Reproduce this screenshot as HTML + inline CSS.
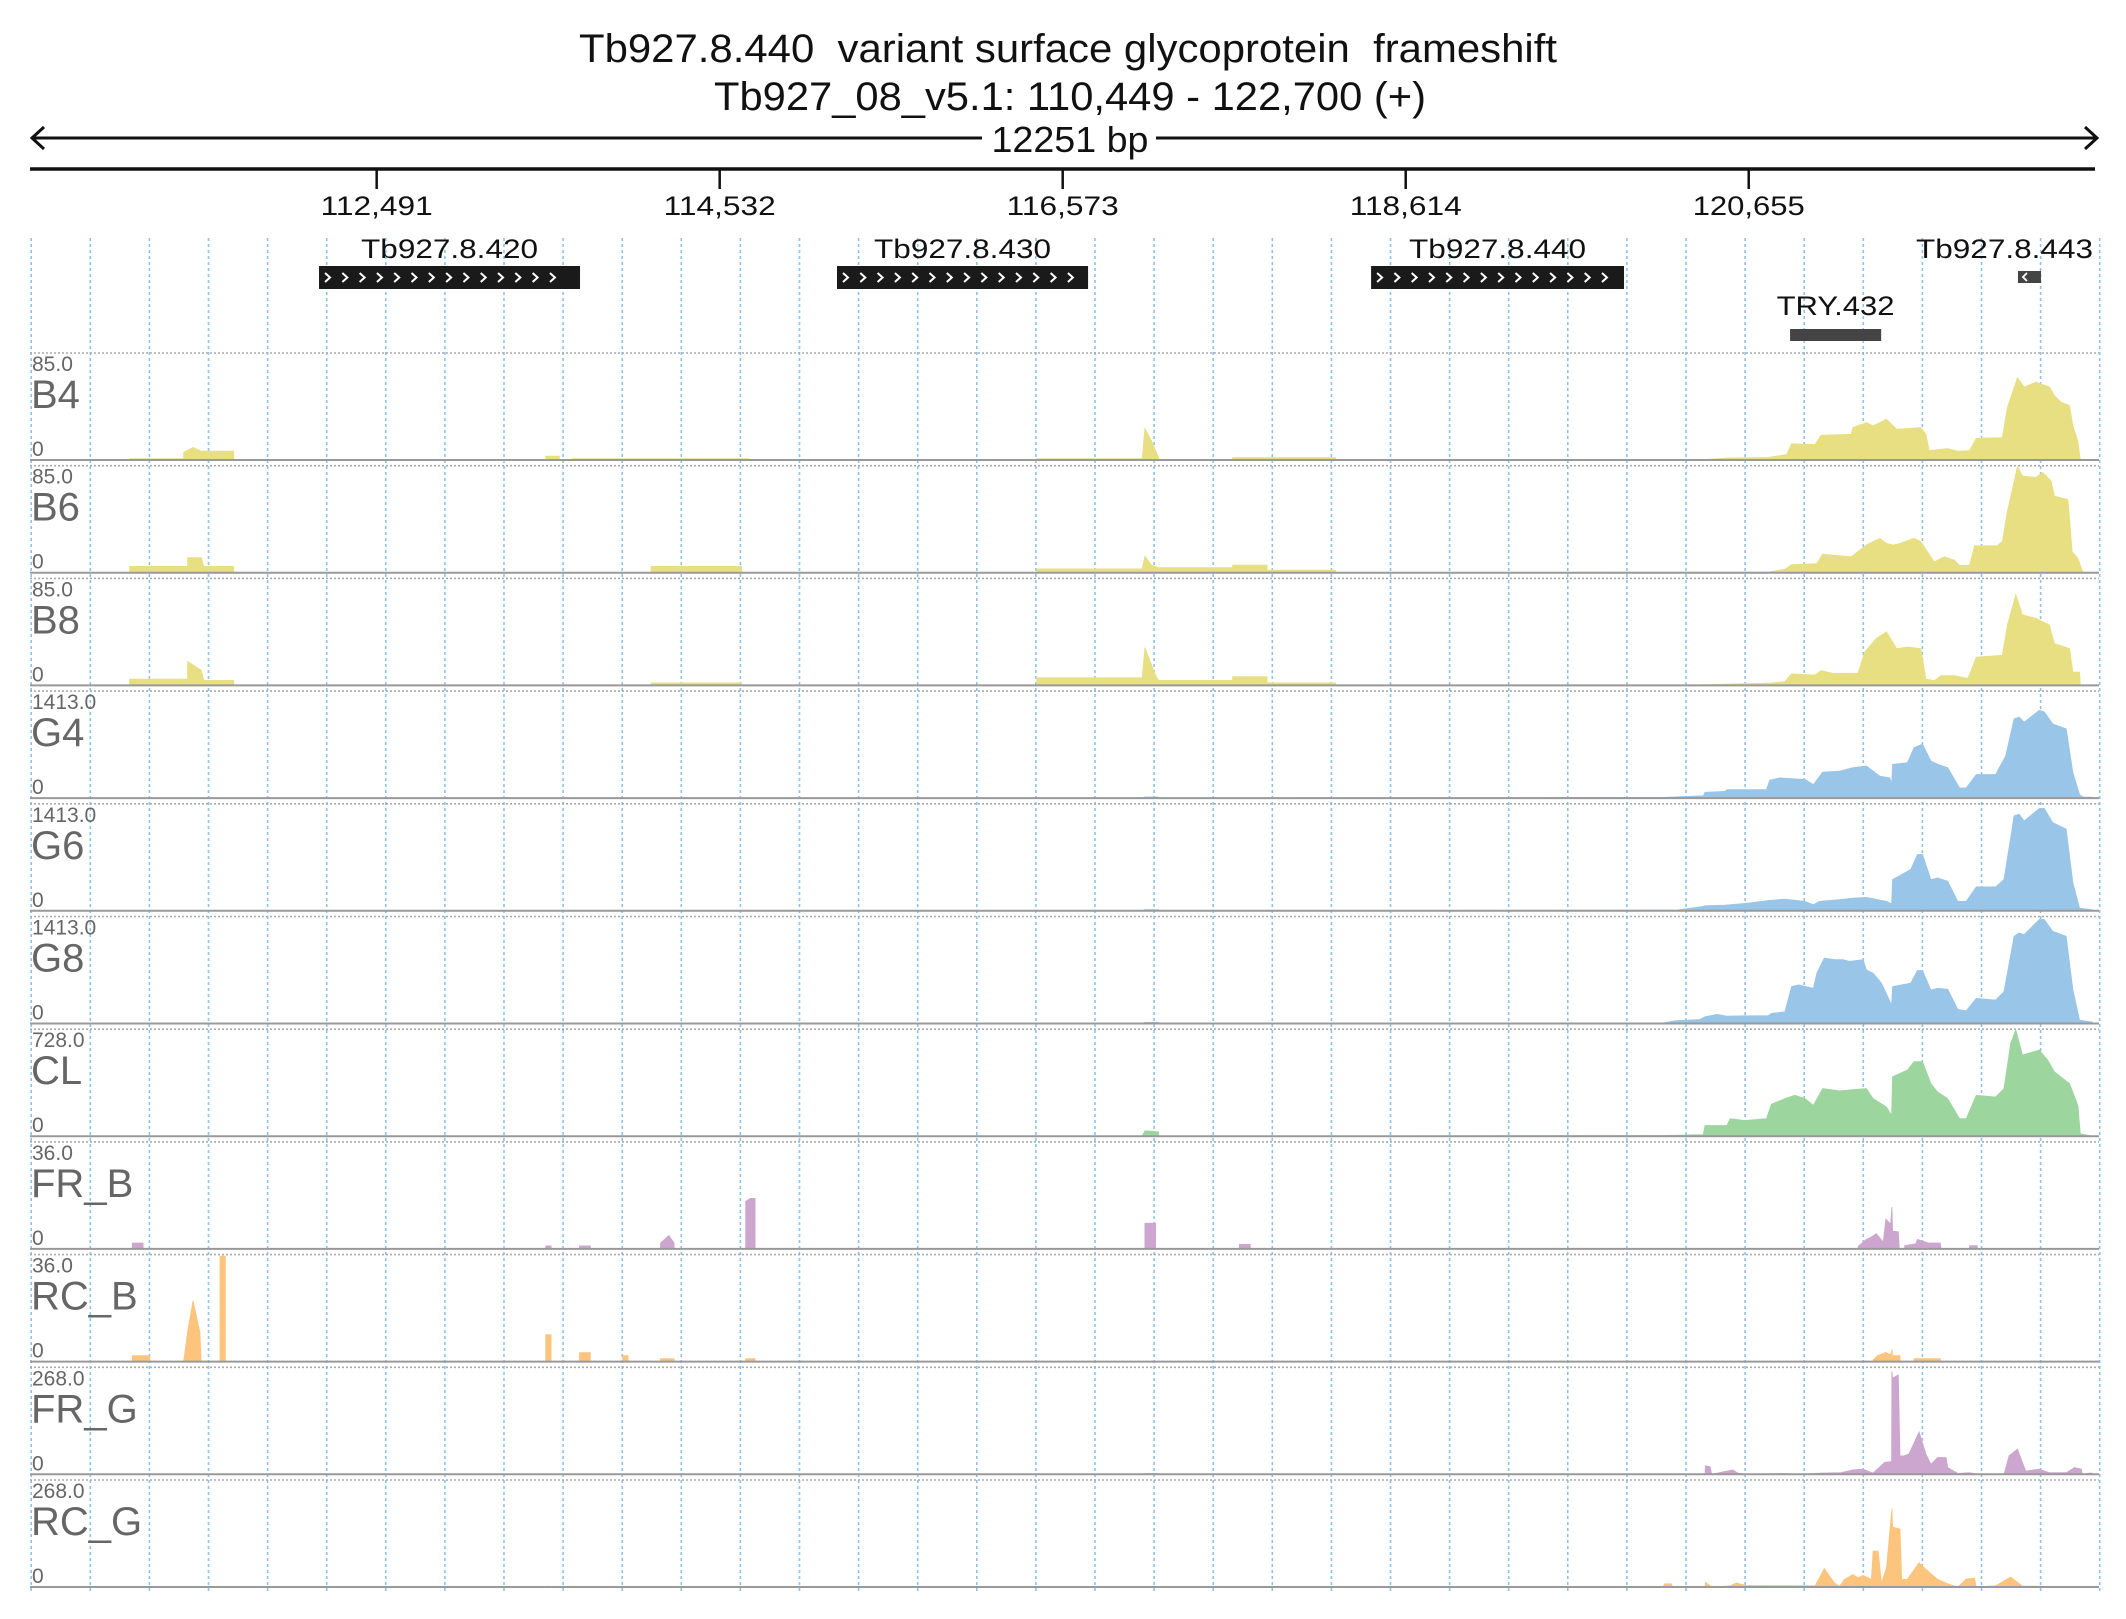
<!DOCTYPE html>
<html><head><meta charset="utf-8"><style>
html,body{margin:0;padding:0;background:#fff;}
svg{display:block;font-family:"Liberation Sans",sans-serif;}
</style></head><body>
<svg id="chart" width="2126" height="1619" viewBox="0 0 2126 1619"></svg>
<script>
const bpStart = 110449, bpEnd = 122700;
const tickValues = [112491,114532,116573,118614,120655];
const tickLabels = ["112,491","114,532","116,573","118,614","120,655"];
const geneNames = ["Tb927.8.420","Tb927.8.430","Tb927.8.440"];
const geneStarts = [112148,115230,118408];
const geneEnds = [113701,116724,119913];
const trackNames = ["B4","B6","B8","G4","G6","G8","CL","FR_B","RC_B","FR_G","RC_G"];
const trackMax = [85,85,85,1413,1413,1413,728,36,36,268,268];
const trackMaxLabels = ["85.0","85.0","85.0","1413.0","1413.0","1413.0","728.0","36.0","36.0","268.0","268.0"];
const trackColors = ["#e8df82","#e8df82","#e8df82","#99c5e8","#99c5e8","#99c5e8","#9dd59e","#cca6cf","#fdc47e","#cca6cf","#fdc47e"];
const dataB4 = [[111021,0],[111021,1],[111342,1],[111342,6],[111398,10],[111447,7],[111640,7],[111640,0],[113497,0],[113497,3],[113578,3],[113578,0],[113658,0],[113658,1],[114703,1],[114703,0],[116419,0],[116419,1],[117046,1],[117062,25],[117102,15],[117143,2],[117143,0],[117584,0],[117584,2],[118196,2],[118196,0],[120405,0.5],[120525,1.6],[120770,2.1],[120880,4.3],[120910,12.9],[121050,12.3],[121085,19.6],[121265,20.4],[121275,25.7],[121355,29.8],[121395,27.1],[121475,32.4],[121535,24.4],[121679,25.7],[121709,20.4],[121729,7.5],[121839,9.1],[121899,7],[121969,7.5],[122009,17.2],[122164,17.7],[122194,41.8],[122254,65.4],[122294,57.9],[122364,61.9],[122444,57.9],[122474,51.2],[122514,45.8],[122564,43.2],[122584,27.1],[122614,15],[122628,0]];
const dataB6 = [[111021,0],[111021,5],[111366,5],[111366,12],[111447,12],[111463,5],[111640,5],[111640,0],[114124,0],[114124,5],[114663,5],[114663,0],[116419,0],[116419,3],[117046,3],[117062,13],[117102,6],[117143,4],[117584,4],[117584,6],[117789,6],[117789,2],[118196,2],[118196,0],[120395,0.5],[120770,0.5],[120870,2.7],[120910,6.4],[121060,7.2],[121095,14.7],[121265,12.6],[121355,22],[121435,27.3],[121475,23.3],[121515,22],[121555,23.3],[121639,27.3],[121679,24.7],[121719,16.6],[121759,8.6],[121819,12.6],[121879,9.9],[121909,5.9],[121969,5.9],[121999,21.4],[122134,21.4],[122164,24.7],[122194,48.8],[122254,84.2],[122284,76.9],[122364,75.6],[122404,79.6],[122454,72.9],[122474,60.8],[122554,58.1],[122580,16.6],[122614,11.3],[122644,0]];
const dataB8 = [[111021,0],[111021,5],[111366,5],[111366,19],[111447,12],[111463,4],[111640,4],[111640,0],[114124,0],[114124,2],[114663,2],[114663,0],[116419,0],[116419,6],[117046,6],[117062,30],[117126,8],[117143,4],[117584,4],[117584,7],[117789,7],[117789,2],[118196,2],[118196,0],[120365,0.5],[120790,1.9],[120870,3],[120910,9.1],[121050,8.3],[121085,11.8],[121155,9.6],[121305,9.6],[121345,26.5],[121415,37.3],[121475,42.6],[121535,29.2],[121599,30.6],[121679,29.2],[121709,5.1],[121759,3.8],[121799,7.8],[121879,7.8],[121959,5.6],[122009,22.5],[122164,23.9],[122194,48],[122244,72.1],[122284,56],[122364,53.3],[122444,48],[122474,33.2],[122564,29.2],[122584,10.5],[122624,10.5],[122628,0]];
const dataG4 = [[117046,0],[117062,15],[117143,15],[117143,0],[120145,9],[120385,31],[120395,76],[120515,89],[120525,111],[120760,111],[120780,236],[120840,267],[120990,245],[121040,178],[121095,343],[121195,357],[121275,401],[121355,423],[121435,290],[121495,267],[121505,178],[121511,446],[121599,468],[121639,668],[121689,713],[121739,490],[121779,446],[121839,401],[121909,134],[121949,134],[122009,312],[122124,312],[122184,557],[122234,1047],[122264,1070],[122294,1003],[122384,1159],[122414,1137],[122464,980],[122544,914],[122584,334],[122624,45],[122644,13],[122700,13]];
const dataG6 = [[117046,0],[117062,15],[117143,15],[117143,0],[120225,9],[120385,58],[120395,66],[120515,75],[120650,102],[120780,137],[120870,155],[120990,124],[121040,80],[121075,124],[121195,146],[121275,168],[121355,177],[121475,124],[121505,93],[121511,412],[121619,545],[121659,744],[121689,744],[121739,412],[121779,434],[121839,390],[121899,124],[121949,124],[122009,315],[122124,315],[122174,412],[122234,1254],[122264,1276],[122294,1187],[122384,1351],[122414,1351],[122464,1165],[122544,1077],[122584,368],[122624,35],[122700,13]];
const dataG8 = [[117046,0],[117062,15],[117143,15],[117143,0],[120145,4],[120215,35],[120365,53],[120395,89],[120465,120],[120525,97],[120640,102],[120770,102],[120790,133],[120870,155],[120910,487],[120950,510],[121040,465],[121060,664],[121105,864],[121165,842],[121215,842],[121255,820],[121335,842],[121355,709],[121395,664],[121445,532],[121505,244],[121511,487],[121619,532],[121659,700],[121689,700],[121739,443],[121779,465],[121839,452],[121899,186],[121949,168],[122009,332],[122124,310],[122174,421],[122234,1152],[122264,1196],[122294,1174],[122384,1373],[122414,1373],[122464,1218],[122544,1152],[122584,443],[122624,44],[122700,18]];
const dataCL = [[117046,0],[117062,37],[117143,30],[117143,0],[120145,5],[120385,11],[120395,73],[120525,73],[120545,119],[120630,107],[120760,119],[120790,217],[120870,256],[120930,278],[120990,256],[121040,210],[121095,324],[121195,308],[121275,317],[121355,324],[121395,256],[121475,199],[121505,141],[121511,404],[121599,450],[121639,507],[121689,507],[121739,358],[121779,301],[121839,256],[121909,119],[121949,119],[122009,278],[122124,267],[122174,324],[122214,632],[122244,723],[122284,552],[122384,586],[122434,518],[122474,438],[122564,358],[122614,210],[122628,16],[122700,0]];
const dataFRB = [[111037,0],[111037,2],[111101,2],[111101,0],[113497,0],[113497,1],[113529,1],[113529,0],[113698,0],[113698,1],[113762,1],[113762,0],[114180,0],[114180,2],[114230,4.5],[114261,2],[114261,0],[114687,0],[114687,16],[114715,17],[114743,17],[114743,0],[117062,0],[117062,8.6],[117126,8.6],[117126,0],[117624,0],[117624,1.5],[117689,1.5],[117689,0],[121305,0],[121307,0.9],[121355,3.2],[121385,4],[121415,5.1],[121455,2.3],[121471,10],[121499,8.4],[121507,14],[121511,6],[121545,5.8],[121551,0],[121583,0],[121583,1.1],[121649,1.7],[121659,3.2],[121725,2],[121795,2],[121799,0],[121969,0],[121969,1.1],[122015,1.1],[122015,0]];
const dataRCB = [[111037,0],[111037,2],[111141,2],[111141,0],[111342,0],[111366,10],[111398,20.5],[111439,10],[111447,0],[111559,0],[111559,35.5],[111591,35.5],[111591,0],[113497,0],[113497,9],[113529,9],[113529,0],[113698,0],[113698,3],[113762,3],[113762,0],[113955,0],[113955,2],[113987,2],[113987,0],[114180,0],[114180,1],[114261,1],[114261,0],[114687,0],[114687,1],[114743,1],[114743,0],[121395,0],[121395,0.6],[121419,1.9],[121469,3.1],[121499,2.3],[121507,4],[121511,2],[121555,2],[121555,0],[121639,0],[121639,1],[121795,1],[121795,0]];
const dataFRG = [[117046,0],[117062,2],[117143,2],[117143,0],[120395,0],[120397,21],[120425,19],[120435,0],[120525,8],[120560,11],[120590,3],[120650,0],[120850,2],[120980,0],[121075,3],[121205,4],[121275,11],[121335,13],[121395,3],[121465,30],[121505,32],[121507,258],[121511,241],[121545,249],[121555,46],[121579,46],[121609,51],[121669,106],[121709,51],[121739,25],[121779,42],[121829,42],[121839,17],[121899,2],[121969,4],[122015,0],[122174,0],[122204,46],[122254,63],[122304,8],[122384,13],[122444,4],[122544,4],[122594,17],[122634,13],[122640,0],[122680,3],[122700,3]];
const dataRCG = [[113497,0],[113510,2],[113570,0],[120145,0],[120155,8],[120195,8],[120201,0],[120395,0],[120397,12],[120435,0],[120545,3],[120581,10],[120640,4],[121050,3],[121105,46],[121165,10],[121195,2],[121225,19],[121275,31],[121305,23],[121335,29],[121385,19],[121395,90],[121425,90],[121445,10],[121475,48],[121507,196],[121511,150],[121555,145],[121565,19],[121599,19],[121669,61],[121709,44],[121779,19],[121839,8],[121899,0],[121949,20],[121999,22],[122009,0],[122124,3],[122214,25],[122284,2],[122344,2],[122700,0]];
const trackData = [dataB4,dataB6,dataB8,dataG4,dataG6,dataG8,dataCL,dataFRB,dataRCB,dataFRG,dataRCG];

const NS = "http://www.w3.org/2000/svg";
const svg = document.getElementById("chart");
const X0 = 33.5, X1 = 2092.4;
function xScale(bp){ return X0 + (bp - bpStart) * (X1 - X0) / (bpEnd - bpStart); }
function mk(tag, attrs, parent){
  const e = document.createElementNS(NS, tag);
  for (const k in attrs) e.setAttribute(k, attrs[k]);
  (parent || svg).appendChild(e);
  return e;
}
function txt(s, attrs, parent){ const t = mk("text", attrs, parent); t.textContent = s; return t; }

// grid
const grid = mk("g", {});


for (let i = 0; i < 36; i++) {
  const gx = 31.2 + i * 59.1;
  const l = mk("line", {x1: gx, x2: gx, y1: 238, y2: 1592, stroke: "#8fc2ea", "stroke-width": 1.6, "stroke-dasharray": "3,3"}, grid);
  
  
}

// title
let t = txt("Tb927.8.440  variant surface glycoprotein  frameshift", {x: 1068, y: 62, "font-size": 40, "text-anchor": "middle", textLength: 978, lengthAdjust: "spacingAndGlyphs", fill: "#111", style: "white-space:pre"});


t = txt("Tb927_08_v5.1: 110,449 - 122,700 (+)", {x: 1070, y: 110, "font-size": 40, "text-anchor": "middle", textLength: 712, lengthAdjust: "spacingAndGlyphs", fill: "#111"});



// span arrow
const arrow = mk("g", {stroke: "#111", "stroke-width": 3, fill: "none"});


mk("line", {x1: 32, x2: 2096, y1: 138, y2: 138}, arrow);
mk("polyline", {points: "44,127 32,138 44,149"}, arrow);
mk("polyline", {points: "2085,127 2097,138 2085,149"}, arrow);
mk("rect", {x: 982, y: 118, width: 174, height: 40, fill: "#fff", stroke: "none"});
t = txt("12251 bp", {x: 1070, y: 152, "font-size": 36, "text-anchor": "middle", textLength: 157, lengthAdjust: "spacingAndGlyphs", fill: "#111"});



// ruler
const ruler = mk("g", {});


mk("line", {x1: 30, x2: 2095, y1: 169, y2: 169, stroke: "#111", "stroke-width": 3.5}, ruler);
tickValues.forEach((v, i) => {
  const tx = xScale(v);
  const tk = mk("line", {x1: tx, x2: tx, y1: 169, y2: 189, stroke: "#111", "stroke-width": 2.5}, ruler);
  
  
  const tl = txt(tickLabels[i], {x: tx, y: 215, "font-size": 27, "text-anchor": "middle", textLength: 112, lengthAdjust: "spacingAndGlyphs", fill: "#111"}, ruler);
  
  
});

// genes
geneNames.forEach((name, i) => {
  const gx0 = xScale(geneStarts[i]), gx1 = xScale(geneEnds[i]);
  const g = mk("g", {});
  
  
  mk("rect", {x: gx0, y: 266, width: gx1 - gx0, height: 23, fill: "#1a1a1a"}, g);
  const n = Math.floor((gx1 - gx0 - 8) / 17.3);
  for (let k = 0; k < n; k++) {
    const cx = gx0 + 6 + k * 17.3;
    mk("polyline", {points: `${cx},${273} ${cx+5},${277.5} ${cx},${282}`, stroke: "#fff", "stroke-width": 2, fill: "none"}, g);
  }
  const lb = txt(name, {x: (gx0 + gx1) / 2, y: 258, "font-size": 27, "text-anchor": "middle", textLength: 177, lengthAdjust: "spacingAndGlyphs", fill: "#111"}, g);
  
  
});
// Tb927.8.443
let g443 = mk("g", {});


const g443x0 = xScale(122257), g443x1 = xScale(122394);
mk("rect", {x: g443x0, y: 271, width: g443x1 - g443x0, height: 12, fill: "#444"}, g443);
mk("polyline", {points: `${g443x0+9},${273} ${g443x0+5},${277} ${g443x0+9},${281}`, stroke: "#fff", "stroke-width": 1.8, fill: "none"}, g443);
t = txt("Tb927.8.443", {x: 2093, y: 258, "font-size": 27, "text-anchor": "end", textLength: 177, lengthAdjust: "spacingAndGlyphs", fill: "#111"}, g443);


// TRY.432
let gtry = mk("g", {});


const tx0 = xScale(120901), tx1 = xScale(121443);
mk("rect", {x: tx0, y: 329, width: tx1 - tx0, height: 12, fill: "#444"}, gtry);
t = txt("TRY.432", {x: (tx0 + tx1) / 2, y: 315, "font-size": 27, "text-anchor": "middle", textLength: 118, lengthAdjust: "spacingAndGlyphs", fill: "#111"}, gtry);



// tracks
const TRACK_H = 107;
trackNames.forEach((name, i) => {
  const base = 460 + 112.7 * i;
  const top = base - TRACK_H;
  const g = mk("g", {});
  
  
  mk("line", {x1: 30, x2: 2099, y1: top, y2: top, stroke: "#aaa", "stroke-width": 1.6, "stroke-dasharray": "2,2"}, g);
  const yS = v => base - (v / trackMax[i]) * TRACK_H;
  const pts = trackData[i];
  let d = `M${xScale(pts[0][0]).toFixed(1)},${base}`;
  pts.forEach(p => { d += ` L${xScale(p[0]).toFixed(1)},${yS(p[1]).toFixed(1)}`; });
  d += ` L${xScale(pts[pts.length-1][0]).toFixed(1)},${base} Z`;
  const area = mk("path", {d: d, fill: trackColors[i], stroke: trackColors[i], "stroke-width": 0.8}, g);
  
  
  mk("line", {x1: 30, x2: 2099, y1: base, y2: base, stroke: "#999", "stroke-width": 2}, g);
  const ml = txt(trackMaxLabels[i], {x: 32, y: top + 18, "font-size": 21, fill: "#666"}, g);
  
  
  const nl = txt(name, {x: 31, y: top + 55, "font-size": 40, fill: "#666"}, g);
  
  
  const zl = txt("0", {x: 32, y: base - 4, "font-size": 21, fill: "#666"}, g);
  
  
});
</script>
</body></html>
